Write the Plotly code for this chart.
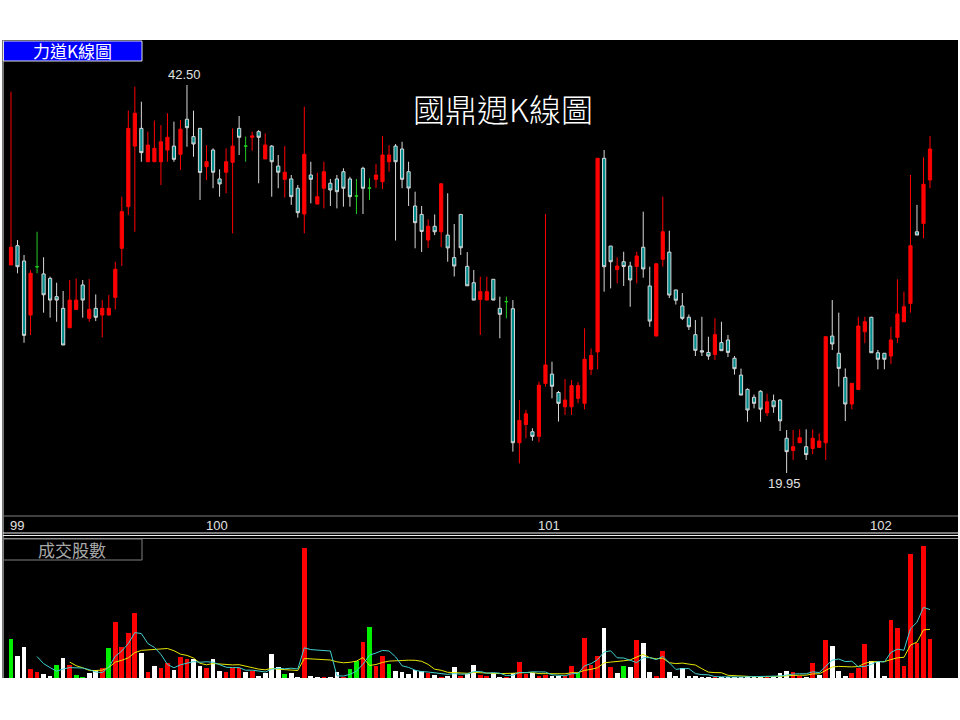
import plotly.graph_objects as go
import pandas as pd

# ---------------- data (weekly OHLC) ----------------
open_ = [32.04,33.16,32.27,29.13,31.94,31.52,31.26,30.20,29.52,28.39,
         29.46,30.88,28.94,29.52,29.13,29.13,30.16,33.01,35.43,38.95,
         39.98,38.04,38.04,38.04,38.72,38.95,38.47,40.51,39.50,39.98,
         37.75,38.72,37.04,37.43,38.01,39.98,38.95,39.46,39.79,38.20,
         38.95,37.79,37.02,37.04,36.50,35.00,37.27,35.58,36.50,36.79,
         37.04,37.46,37.04,36.05,37.66,36.51,37.02,36.88,38.04,38.95,
         38.78,37.46,35.47,34.98,33.49,34.29,33.97,33.78,32.47,34.98,
         31.96,31.01,30.04,30.00,31.21,29.52,29.91,29.50,21.71,22.77,
         22.35,22.08,25.16,25.70,24.63,23.80,23.80,24.29,24.00,25.98,
         26.99,38.24,33.14,31.78,32.23,31.98,31.95,33.07,30.82,27.91,
         32.37,32.79,30.59,29.66,29.00,27.99,27.06,26.96,26.84,27.53,
         27.68,26.62,25.64,24.81,24.35,24.70,23.45,24.15,24.19,21.97,
         21.26,21.71,21.48,21.38,21.44,21.71,27.91,26.91,25.51,23.96,
         24.81,28.16,29.00,26.94,26.91,26.75,27.84,28.74,29.81,33.97,
         34.46,36.98]
high = [42.11,33.49,32.62,31.75,33.97,32.49,31.36,31.01,30.53,31.17,
        31.26,31.17,31.22,30.33,30.00,30.29,32.23,36.01,41.01,42.40,
        41.53,39.79,40.43,40.17,40.86,40.37,40.47,42.50,41.01,39.98,
        39.01,38.82,37.60,38.82,39.98,40.70,39.50,39.79,39.88,39.69,
        39.01,38.43,38.95,37.27,36.69,41.24,38.04,37.40,38.04,37.04,
        37.27,37.66,37.17,37.04,37.75,37.08,37.91,39.54,39.01,39.07,
        39.20,38.04,36.30,35.47,34.69,34.98,36.79,36.21,34.42,34.98,
        32.79,31.75,31.36,31.36,31.21,30.20,30.20,30.00,24.19,23.61,
        22.55,25.26,35.00,26.42,24.72,25.41,25.35,25.24,28.36,27.19,
        38.24,38.72,33.14,32.49,32.81,32.23,32.81,35.14,31.94,32.14,
        36.01,34.03,30.59,30.41,29.16,28.84,29.03,27.87,28.94,28.74,
        27.97,26.75,26.02,24.87,24.51,24.76,24.56,24.51,24.25,22.45,
        22.45,22.49,22.49,22.49,22.26,27.91,30.00,29.27,26.03,25.16,
        29.03,29.03,29.03,27.10,26.91,28.45,31.21,30.49,37.27,35.53,
        38.30,39.54]
low = [32.04,31.56,27.52,27.97,31.56,29.27,28.98,28.74,27.39,28.39,
       29.46,28.98,28.74,28.78,27.84,29.13,29.46,31.98,34.94,33.97,
       38.04,38.04,38.04,36.69,38.04,38.04,37.56,38.91,38.33,35.82,
       36.98,36.50,36.01,36.21,33.88,38.43,38.04,38.68,36.79,38.20,
       36.01,36.50,35.97,35.53,34.79,33.88,35.62,35.58,35.33,35.47,
       35.33,35.43,35.43,35.00,35.00,35.82,36.51,36.46,37.46,33.46,
       36.50,35.47,33.01,32.79,33.03,33.78,33.08,32.23,31.37,32.62,
       30.83,30.00,27.97,30.00,30.00,27.78,28.94,21.19,20.51,21.97,
       21.83,21.74,24.97,24.29,22.94,23.32,23.32,24.00,23.65,25.64,
       25.98,30.49,30.68,30.97,30.82,29.61,30.97,31.30,28.45,27.91,
       31.94,30.12,29.74,28.84,28.26,26.75,26.75,26.53,26.52,27.06,
       26.69,25.67,24.48,22.93,23.71,22.93,23.26,23.45,22.39,19.95,
       20.71,21.71,20.71,21.04,21.44,20.71,27.10,24.97,22.97,23.65,
       24.81,27.49,26.94,25.98,25.98,26.28,27.52,28.74,29.27,33.78,
       33.59,36.50]
close = [33.07,31.94,27.95,31.56,31.94,30.31,30.00,30.00,27.39,30.00,
         30.00,30.00,29.46,29.00,29.52,29.52,31.79,35.14,39.98,40.86,
         38.57,39.01,38.82,39.20,39.46,38.18,39.93,40.02,39.07,37.42,
         38.04,37.43,36.75,38.04,38.95,39.46,38.95,39.54,39.46,39.01,
         38.04,37.43,37.43,36.01,35.08,38.47,37.02,36.01,37.46,36.40,
         36.30,36.50,36.01,36.05,36.50,36.51,37.27,38.43,38.43,38.04,
         37.02,36.51,34.50,33.99,34.29,33.97,36.76,33.03,31.98,33.04,
         30.83,30.00,30.49,30.49,30.00,29.17,29.91,21.71,23.00,23.39,
         22.08,25.05,26.23,24.99,24.00,24.19,25.03,25.03,26.56,26.78,
         38.24,31.94,32.23,31.98,31.95,31.17,32.56,31.81,28.78,32.11,
         33.97,30.29,29.99,28.94,28.45,27.08,26.98,26.75,27.99,27.06,
         26.96,26.01,24.48,23.61,24.00,23.66,24.09,23.80,22.98,21.19,
         21.48,22.00,21.02,21.97,21.81,27.87,27.45,26.03,23.96,25.16,
         28.49,28.74,26.94,26.56,26.56,27.68,29.19,29.61,33.16,33.78,
         36.73,38.78]
volume = [39,22,31,9,6,4,2,13,20,13,
          3,1,5,8,10,30,56,31,45,65,
          25,6,12,10,15,8,21,19,19,12,
          10,19,7,6,10,10,6,7,2,5,
          24,11,4,5,1,130,2,1,1,1,
          6,1,9,17,36,51,12,22,14,7,
          6,4,8,7,5,3,1,2,11,2,
          4,13,3,2,5,1,1,5,16,4,
          5,2,3,2,2,2,12,5,40,13,
          22,50,11,5,12,11,38,35,6,2,
          27,6,2,10,2,2,1,1,1,1,
          1,1,1,2,2,1,1,1,5,7,
          6,2,1,15,3,38,32,7,2,5,
          10,34,17,17,2,58,50,12,124,35,
          132,39]
# volume bar direction vs previous close: u = up, d = down, f = flat
vol_dir_rows = ["fdduuddfdu", "ffddufuuuu", "duduuduudd", "udduuududd",
                "ddfdduddud", "duffufuufd", "ddddududdu", "dduudduduu",
                "duudduufuu", "ududfduddu", "udddddddud", "dddddduddd",
                "uudududddu", "uuddduuuuu", "uu"]
vol_dir = list("".join(vol_dir_rows))
doji = [4, 36, 53, 55, 76]          # open == close weeks (green crosses)
year_labels = ["99", "100", "101", "102"]
year_start = [0, 30, 81, 132]       # first week of each year

# ---------------------------------------------------------------------
W, H = 960, 720
def px(x):
    return x / W
def py(y):
    return 1 - y / H

n = len(close)
idx = list(range(n))
norm = [i for i in idx if i not in doji]

vcol = {"u": "#FF0000", "d": "#FFFFFF", "f": "#00F000"}
ma5 = pd.Series(volume).rolling(5).mean()
ma10 = pd.Series(volume).rolling(10).mean()

fig = go.Figure()
fig.add_trace(go.Candlestick(
    x=norm, open=[open_[i] for i in norm], high=[high[i] for i in norm],
    low=[low[i] for i in norm], close=[close[i] for i in norm],
    increasing=dict(line=dict(color="#FF0000", width=1), fillcolor="#FF0000"),
    decreasing=dict(line=dict(color="#D8D8D8", width=1), fillcolor="#008C8C"),
    whiskerwidth=0, xaxis="x", yaxis="y", showlegend=False, hoverinfo="skip"))
fig.add_trace(go.Candlestick(
    x=doji, open=[open_[i] for i in doji], high=[high[i] for i in doji],
    low=[low[i] for i in doji], close=[close[i] for i in doji],
    increasing=dict(line=dict(color="#22CC22", width=1), fillcolor="#22CC22"),
    decreasing=dict(line=dict(color="#22CC22", width=1), fillcolor="#22CC22"),
    whiskerwidth=0, xaxis="x", yaxis="y", showlegend=False, hoverinfo="skip"))
fig.add_trace(go.Bar(
    x=idx, y=volume, marker=dict(color=[vcol[d] for d in vol_dir], line=dict(width=0)),
    width=0.72, xaxis="x2", yaxis="y2", showlegend=False, hoverinfo="skip"))
fig.add_trace(go.Scatter(x=idx, y=ma10, mode="lines", line=dict(color="#E6E600", width=1),
                         xaxis="x2", yaxis="y2", showlegend=False, hoverinfo="skip"))
fig.add_trace(go.Scatter(x=idx, y=ma5, mode="lines", line=dict(color="#40D0D0", width=1),
                         xaxis="x2", yaxis="y2", showlegend=False, hoverinfo="skip"))

xr = [-1.688, 145.6]
axis_common = dict(showgrid=False, zeroline=False, showticklabels=False, ticks="",
                   showline=False)
shapes = [
    dict(type="rect", xref="paper", yref="paper", x0=px(2), x1=px(958), y0=py(678), y1=py(40),
         fillcolor="#000000", line=dict(width=0), layer="below"),
    dict(type="line", xref="paper", yref="paper", x0=px(3), x1=px(3), y0=py(678), y1=py(40),
         line=dict(color="#A0A0A0", width=1.5)),
    dict(type="line", xref="paper", yref="paper", x0=px(3), x1=px(958), y0=py(516), y1=py(516),
         line=dict(color="#808080", width=1)),
    dict(type="line", xref="paper", yref="paper", x0=px(3), x1=px(958), y0=py(533), y1=py(533),
         line=dict(color="#F0F0F0", width=1)),
    dict(type="line", xref="paper", yref="paper", x0=px(3), x1=px(958), y0=py(535.5), y1=py(535.5),
         line=dict(color="#F0F0F0", width=1)),
    dict(type="line", xref="paper", yref="paper", x0=px(3), x1=px(958), y0=py(538.5), y1=py(538.5),
         line=dict(color="#909090", width=1)),
    dict(type="rect", xref="paper", yref="paper", x0=px(3.5), x1=px(142), y0=py(61), y1=py(41),
         fillcolor="#0000FF", line=dict(color="#E0E0E0", width=1)),
    dict(type="rect", xref="paper", yref="paper", x0=px(3.5), x1=px(142), y0=py(560), y1=py(539),
         fillcolor="rgba(0,0,0,0)", line=dict(color="#808080", width=1)),
]

cjk = "Noto Sans CJK TC"
num = "Liberation Sans"
ann = [
    dict(text="力道K線圖", xref="paper", yref="paper", x=px(72), y=py(51), showarrow=False,
         font=dict(family=cjk, size=17, color="#FFFFFF"), xanchor="center", yanchor="middle"),
    dict(text="成交股數", xref="paper", yref="paper", x=px(72), y=py(549.5), showarrow=False,
         font=dict(family=cjk, size=17, color="#A8A8A8"), xanchor="center", yanchor="middle"),
    dict(text="國鼎週K線圖", xref="paper", yref="paper", x=px(503), y=py(108), showarrow=False,
         font=dict(family=cjk, size=32, color="#FFFFFF", weight=300),
         xanchor="center", yanchor="middle"),
]
hi_i = max(idx, key=lambda i: high[i])
lo_i = min(idx, key=lambda i: low[i])
ann.append(dict(text=f"{high[hi_i]:.2f}", x=hi_i, y=high[hi_i], xref="x", yref="y",
                showarrow=False, yanchor="bottom", xanchor="center", yshift=1, xshift=-2,
                font=dict(family=num, size=13, color="#E0E0E0")))
ann.append(dict(text=f"{low[lo_i]:.2f}", x=lo_i, y=low[lo_i], xref="x", yref="y",
                showarrow=False, yanchor="top", xanchor="center", yshift=-1, xshift=-2,
                font=dict(family=num, size=13, color="#E0E0E0")))
for lab, s in zip(year_labels, year_start):
    ann.append(dict(text=lab, x=s, xref="x", y=py(525), yref="paper", showarrow=False,
                    xanchor="left", yanchor="middle", xshift=-3,
                    font=dict(family=num, size=13, color="#E0E0E0")))

fig.update_layout(
    width=W, height=H, margin=dict(l=0, r=0, t=0, b=0),
    paper_bgcolor="#FFFFFF", plot_bgcolor="rgba(0,0,0,0)", template="none",
    showlegend=False, boxmode="overlay", bargap=0,
    xaxis=dict(domain=[0, 1], range=xr, anchor="y", rangeslider=dict(visible=False), **axis_common),
    yaxis=dict(domain=[py(515), py(61)], range=[17.51, 43.895], anchor="x", **axis_common),
    xaxis2=dict(domain=[0, 1], range=xr, anchor="y2", **axis_common),
    yaxis2=dict(domain=[py(678), py(538)], range=[0, 140], anchor="x2", **axis_common),
    shapes=shapes, annotations=ann,
)
fig.write_html("out.html", config={"displayModeBar": False},
               post_script="document.body.style.margin='0';")
